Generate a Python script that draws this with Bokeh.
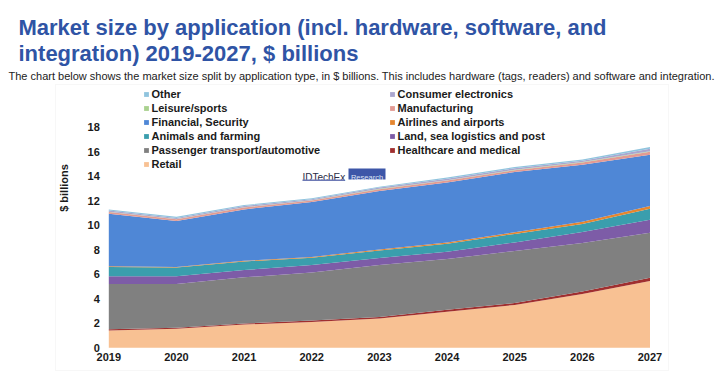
from bokeh.plotting import figure
from bokeh.models import (Range1d, FixedTicker, Legend, LegendItem, Label,
                          BoxAnnotation, ColumnDataSource)
from bokeh.embed import file_html
from bokeh.resources import INLINE

# ---------------- data ----------------
years = [2019, 2020, 2021, 2022, 2023, 2024, 2025, 2026, 2027]
retail        = [1.42, 1.55, 1.90, 2.10, 2.40, 2.95, 3.50, 4.40, 5.45]
healthcare    = [0.10, 0.08, 0.08, 0.12, 0.12, 0.15, 0.15, 0.20, 0.27]
passenger     = [3.68, 3.57, 3.77, 3.93, 4.23, 4.15, 4.25, 3.95, 3.68]
land_sea      = [0.65, 0.65, 0.60, 0.60, 0.58, 0.60, 0.70, 0.90, 1.05]
animals       = [0.75, 0.70, 0.70, 0.60, 0.62, 0.65, 0.70, 0.65, 0.90]
airlines      = [0.05, 0.05, 0.05, 0.07, 0.08, 0.10, 0.13, 0.20, 0.23]
financial     = [4.30, 3.75, 4.20, 4.48, 4.77, 4.90, 4.92, 4.65, 4.17]
manufacturing = [0.13, 0.15, 0.15, 0.12, 0.15, 0.15, 0.15, 0.17, 0.25]
leisure       = [0.02, 0.02, 0.03, 0.03, 0.03, 0.03, 0.04, 0.04, 0.05]
consumer      = [0.10, 0.08, 0.10, 0.07, 0.10, 0.12, 0.12, 0.11, 0.20]
other         = [0.10, 0.10, 0.07, 0.08, 0.07, 0.10, 0.10, 0.11, 0.15]

# stacking order bottom -> top
series_keys = ["retail", "healthcare", "passenger", "land_sea", "animals", "airlines",
               "financial", "manufacturing", "leisure", "consumer", "other"]
series_labels = ["Retail", "Healthcare and medical", "Passenger transport/automotive",
                 "Land, sea logistics and post", "Animals and farming", "Airlines and airports",
                 "Financial, Security", "Manufacturing", "Leisure/sports",
                 "Consumer electronics", "Other"]
series_colors = ["#f8c193", "#a02f2f", "#808080", "#7d5ca7", "#3a9ead", "#e5862f",
                 "#4f87d6", "#e39a93", "#a9d18e", "#aaa6cf", "#90c4de"]
# legend order (row-major, two columns)
legend_order = ["other", "consumer", "leisure", "manufacturing", "financial", "airlines",
                "animals", "land_sea", "passenger", "healthcare", "retail"]

y_ticks = [0, 2, 4, 6, 8, 10, 12, 14, 16, 18]

title_line1 = "Market size by application (incl. hardware, software, and"
title_line2 = "integration) 2019-2027, $ billions"
subtitle = ("The chart below shows the market size split by application type, in $ billions. "
            "This includes hardware (tags, readers) and software and integration.")
y_label = "$ billions"

# ---------------- layout (pixels) ----------------
W, H = 724, 375
PX_LEFT, PX_RIGHT = 108.3, 649.5       # where first / last year sit
PX_ZERO, PX_TOP18 = 347.3, 126.8      # where 0 and 18 sit (from top)
ppx = (PX_RIGHT - PX_LEFT) / (years[-1] - years[0])
ppy = (PX_ZERO - PX_TOP18) / 18.0
x_start = years[0] - PX_LEFT / ppx
x_end = years[-1] + (W - PX_RIGHT) / ppx
y_start = -(H - PX_ZERO) / ppy
y_end = PX_ZERO / ppy

source = ColumnDataSource(dict(
    year=years, retail=retail, healthcare=healthcare, passenger=passenger,
    land_sea=land_sea, animals=animals, airlines=airlines, financial=financial,
    manufacturing=manufacturing, leisure=leisure, consumer=consumer, other=other))

FONT = "Liberation Sans"

p = figure(width=W, height=H, output_backend="svg", toolbar_location=None,
           x_range=Range1d(x_start, x_end), y_range=Range1d(y_start, y_end),
           min_border=0)
p.background_fill_color = "white"
p.border_fill_color = "white"
p.outline_line_color = None
p.xgrid.grid_line_color = None
p.ygrid.grid_line_color = None

renderers = p.varea_stack(stackers=series_keys, x="year", color=series_colors,
                          source=source)
r_by_key = dict(zip(series_keys, renderers))
lab_by_key = dict(zip(series_keys, series_labels))

for ax in (p.xaxis[0], p.yaxis[0]):
    ax.axis_line_color = None
    ax.major_tick_line_color = None
    ax.minor_tick_line_color = None
    ax.major_tick_out = 0
    ax.major_tick_in = 0
    ax.major_label_text_font = FONT
    ax.major_label_text_font_style = "bold"
    ax.major_label_text_font_size = "11px"
    ax.major_label_text_color = "#1a1a1a"

p.xaxis.ticker = FixedTicker(ticks=years)
p.xaxis.major_label_standoff = 5
p.xaxis.fixed_location = 0
p.yaxis.ticker = FixedTicker(ticks=y_ticks)
p.yaxis.major_label_standoff = 9
p.yaxis.fixed_location = years[0]
p.yaxis.axis_label = y_label
p.yaxis.axis_label_text_font = FONT
p.yaxis.axis_label_text_font_style = "bold"
p.yaxis.axis_label_text_font_size = "11px"
p.yaxis.axis_label_text_color = "#1a1a1a"
p.yaxis.axis_label_standoff = 14

legend = Legend(items=[LegendItem(label=lab_by_key[k], renderers=[r_by_key[k]])
                       for k in legend_order],
                location=(142.5, 204.7), orientation="horizontal", ncols=2,
                padding=0, spacing=2, margin=0,
                glyph_width=6, glyph_height=6, label_standoff=3,
                label_width=235, label_height=12,
                label_text_font=FONT, label_text_font_style="bold",
                label_text_font_size="11px", label_text_color="#1a1a1a",
                background_fill_alpha=0, border_line_alpha=0)
p.add_layout(legend, "center")

# screen units: frame == whole canvas, origin bottom-left
def sy(py):
    return H - py

# outer light frame around the chart image
p.add_layout(BoxAnnotation(left=55, right=668, top=sy(84), bottom=sy(370),
                           left_units="screen", right_units="screen",
                           top_units="screen", bottom_units="screen",
                           fill_alpha=0, line_color="#e3e3e3", line_width=1))

# titles
p.add_layout(Label(x=18, y=sy(27), x_units="screen", y_units="screen", text=title_line1,
                   text_font=FONT, text_font_style="bold", text_font_size="22px",
                   text_color="#2f54a5", text_baseline="alphabetic"))
p.add_layout(Label(x=18, y=sy(53), x_units="screen", y_units="screen", text=title_line2,
                   text_font=FONT, text_font_style="bold", text_font_size="22px",
                   text_color="#2f54a5", text_baseline="alphabetic"))
p.add_layout(Label(x=8, y=sy(75), x_units="screen", y_units="screen", text=subtitle,
                   text_font=FONT, text_font_size="11px",
                   text_color="#222222", text_baseline="alphabetic"))

# IDTechEx logo
p.add_layout(Label(x=302, y=sy(177), x_units="screen", y_units="screen", text="IDTechEx",
                   text_font=FONT, text_font_size="10px", text_color="#2a2d45",
                   text_baseline="alphabetic"))
p.add_layout(BoxAnnotation(left=302, right=344, top=sy(179), bottom=sy(180.5),
                           left_units="screen", right_units="screen",
                           top_units="screen", bottom_units="screen",
                           fill_color="#6d79b5", fill_alpha=1, line_alpha=0))
p.add_layout(BoxAnnotation(left=348, right=385, top=sy(168), bottom=sy(179),
                           left_units="screen", right_units="screen",
                           top_units="screen", bottom_units="screen",
                           fill_color="#3d56a8", fill_alpha=1, line_alpha=0))
p.add_layout(Label(x=366.5, y=sy(176.5), x_units="screen", y_units="screen", text="Research",
                   text_font=FONT, text_font_size="7.5px", text_color="#dfe4f5",
                   text_align="center", text_baseline="alphabetic"))

open("out.html", "w").write(file_html(p, INLINE))
